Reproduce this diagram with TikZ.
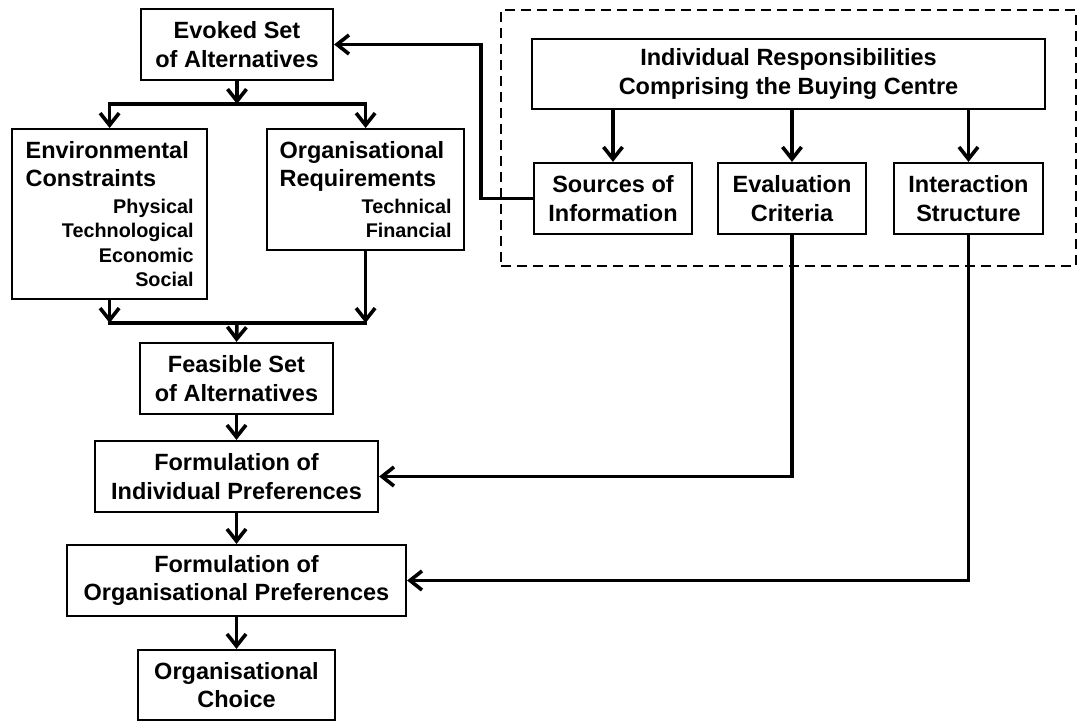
\documentclass[tikz,border=0pt]{standalone}
\usepackage{fontspec}
\setmainfont{Liberation Sans}
\usetikzlibrary{arrows.meta}
\newcommand{\subsz}{\fontsize{19.8}{24.5}\selectfont}
\begin{document}
\begin{tikzpicture}[x=1pt,y=-1pt,
  box/.style={draw, line width=2.2pt, inner sep=0pt,
    font=\bfseries\fontsize{23.5}{28.5}\selectfont},
  cbox/.style={box, align=center},
  conn/.style={line width=3.6pt, line cap=rect},
  arr/.style={line width=3.6pt, -{Straight Barb[length=12pt,width=19pt]}},
  groupbox/.style={draw, line width=2pt, dash pattern=on 10pt off 6pt, inner sep=0pt}]
\useasboundingbox (0,0) rectangle (1077,722);

% dashed group
\node[groupbox, minimum width=575pt, minimum height=256pt] (bc) at (788,138) {};

% left column
\node[cbox, minimum width=192pt, minimum height=71pt] (evoked) at (237,44.5) {Evoked Set\\of Alternatives};
\node[box, anchor=north west, minimum height=170pt, text width=168pt, inner xsep=13.5pt] (env) at (11,128)
  {\raggedright Environmental\\Constraints\par\vspace{2pt}\subsz\raggedleft Physical\\Technological\\Economic\\Social\par};
\node[box, anchor=north west, minimum height=121pt, text width=172pt, inner xsep=12.5pt] (orgreq) at (266,128)
  {\raggedright Organisational\\Requirements\par\vspace{2pt}\subsz\raggedleft Technical\\Financial\par};
\node[cbox, minimum width=193pt, minimum height=71pt] (feasible) at (236.5,378.5) {Feasible Set\\of Alternatives};
\node[cbox, minimum width=283pt, minimum height=71pt] (forminds) at (236.5,476.5) {Formulation of\\Individual Preferences};
\node[cbox, minimum width=339pt, minimum height=71pt] (formorg) at (236.5,580.5) {Formulation of\\Organisational Preferences};
\node[cbox, minimum width=197pt, minimum height=70pt] (choice) at (236.5,685) {Organisational\\Choice};

% buying centre
\node[cbox, minimum width=513pt, minimum height=70pt] (header) at (788.5,74) {Individual Responsibilities\\Comprising the Buying Centre};
\node[cbox, minimum width=158pt, minimum height=71pt] (sources) at (613,198.5) {Sources of\\Information};
\node[cbox, minimum width=148pt, minimum height=71pt] (eval) at (792,198.5) {Evaluation\\Criteria};
\node[cbox, minimum width=149pt, minimum height=71pt] (inter) at (968.5,198.5) {Interaction\\Structure};

% junctions
\coordinate (j1) at (237,104);
\coordinate (j2) at (237,323);

% connectors
\draw[arr] (evoked.south) -- (j1);
\draw[conn] (env.north |- j1) -- (orgreq.north |- j1);
\draw[arr] (env.north |- j1) -- (env.north);
\draw[arr] (orgreq.north |- j1) -- (orgreq.north);

\draw[arr] (env.south) -- (env.south |- j2);
\draw[arr] (orgreq.south) -- (orgreq.south |- j2);
\draw[conn] (env.south |- j2) -- (orgreq.south |- j2);
\draw[arr] (j2) -- (feasible.north);

\draw[arr] (feasible.south) -- (forminds.north);
\draw[arr] (forminds.south) -- (formorg.north);
\draw[arr] (formorg.south) -- (choice.north);

\draw[arr] (header.south -| sources) -- (sources.north);
\draw[arr] (header.south -| eval) -- (eval.north);
\draw[arr] (header.south -| inter) -- (inter.north);

\draw[arr] (sources.west) -- ++(-52,0) |- (evoked.east);
\draw[arr] (eval.south) |- (forminds.east);
\draw[arr] (inter.south) |- (formorg.east);
\end{tikzpicture}
\end{document}
